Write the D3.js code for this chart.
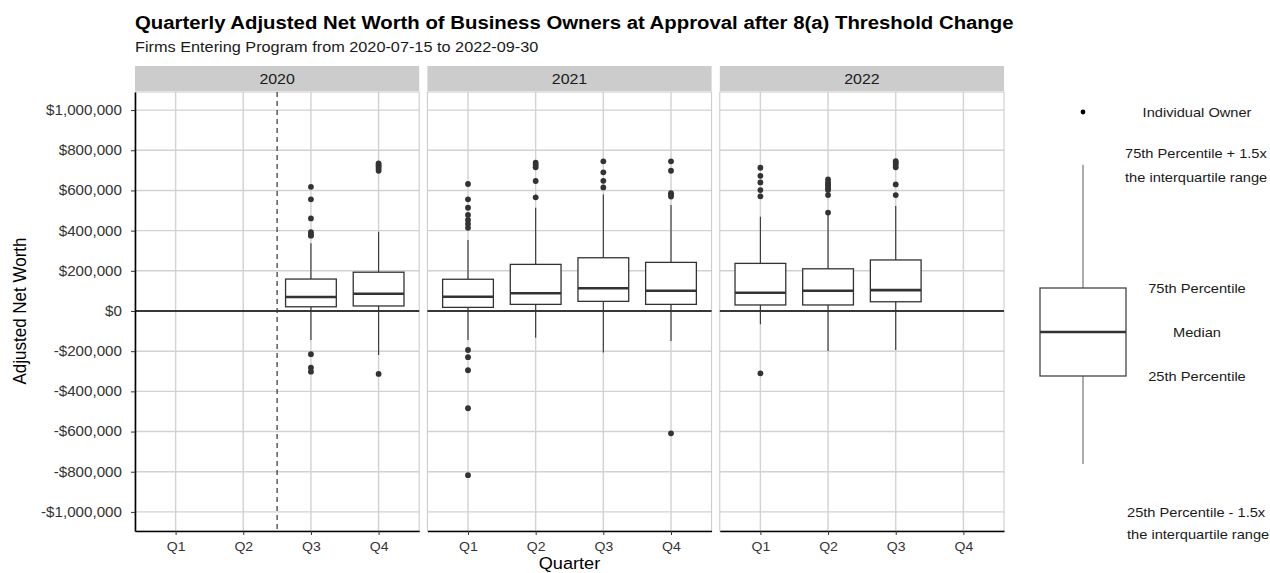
<!DOCTYPE html>
<html>
<head>
<meta charset="utf-8">
<script src="https://cdn.jsdelivr.net/npm/d3@7"></script>
<style>
  body { margin: 0; background: #fff; }
  text { font-family: "Liberation Sans", Arial, sans-serif; }
</style>
</head>
<body>
<div id="chart"></div>
<script>
// facets and categories
const years = ['2020', '2021', '2022'];
const quarters = ['Q1', 'Q2', 'Q3', 'Q4'];
const yTicks = [-1000000, -800000, -600000, -400000, -200000, 0, 200000, 400000, 600000, 800000, 1000000];

// threshold change: between 2020 Q2 and Q3
const thresholdYear = '2020';
const thresholdQuarter = 2.5;

// one entry per box
const boxYears    = ['2020', '2020', '2021', '2021', '2021', '2021', '2022', '2022', '2022'];
const boxQuarters = ['Q3', 'Q4', 'Q1', 'Q2', 'Q3', 'Q4', 'Q1', 'Q2', 'Q3'];
const lowerWhisker = [-144000, -219000, -144000, -133000, -206000, -149000, -66000, -199000, -194000];
const p25          = [21000, 25000, 18000, 33000, 48000, 33000, 30000, 30000, 46000];
const medians      = [70000, 86000, 71000, 88000, 113000, 101000, 91000, 101000, 104000];
const p75          = [159000, 193000, 158000, 232000, 265000, 242000, 237000, 210000, 254000];
const upperWhisker = [337000, 395000, 353000, 514000, 580000, 527000, 469000, 478000, 522000];
const outliers = [
  [618000, 556000, 461000, 392000, 380000, 375000, -215000, -282000, -302000],
  [735000, 726000, 718000, 708000, 698000, -313000],
  [632000, 556000, 514000, 478000, 453000, 433000, 414000, -194000, -230000, -295000, -484000, -817000],
  [738000, 727000, 715000, 647000, 566000],
  [745000, 690000, 648000, 615000],
  [745000, 698000, 586000, 578000, 570000, -609000],
  [713000, 673000, 640000, 602000, 571000, -310000],
  [655000, 640000, 630000, 622000, 610000, 602000, 577000, 490000],
  [746000, 738000, 728000, 715000, 630000, 577000],
];

// explanatory legend (illustrative units)
const legendStats = { point: 9.5, upper: 8.3, q3: 5.5, median: 4.5, q1: 3.5, lower: 1.5 };
const legendLabels = ['Individual Owner', '75th Percentile', 'Median', '25th Percentile'];
const legendUpperNote = ['75th Percentile + 1.5x', 'the interquartile range'];
const legendLowerNote = ['25th Percentile - 1.5x', 'the interquartile range'];

const title = 'Quarterly Adjusted Net Worth of Business Owners at Approval after 8(a) Threshold Change';
const subtitle = 'Firms Entering Program from 2020-07-15 to 2022-09-30';

const W = 1270, H = 573;
const SX = 1.1; // text in the reference is a little wide
const panelTop = 92, panelBottom = 531, stripTop = 66;

const boxes = boxYears.map((yr, i) => ({
  year: yr,
  q: quarters.indexOf(boxQuarters[i]) + 1,
  lo: lowerWhisker[i], p25: p25[i], med: medians[i], p75: p75[i], hi: upperWhisker[i],
  out: outliers[i],
}));

const svg = d3.select('#chart').append('svg')
  .attr('width', W).attr('height', H)
  .style('background', '#fff');

function stretch(sel, sx = SX) {
  sel.each(function() {
    const t = d3.select(this);
    const x = +t.attr('x') || 0, y = +t.attr('y') || 0;
    t.attr('x', 0).attr('y', 0).attr('transform', `translate(${x},${y}) scale(${sx},1)`);
  });
}

const xPanel = d3.scaleBand().domain(years).range([135, 1004]).paddingInner(0.028);
const xq = d3.scaleLinear().domain([0.4, 4.6]).range([0, xPanel.bandwidth()]);
const y = d3.scaleLinear().domain([-1095000, 1090000]).range([panelBottom, panelTop]);
const boxW = xq(0.75) - xq(0);
const money = v => (v < 0 ? '-' : '') + '$' + d3.format(',')(Math.abs(v));

// title
svg.append('text').attr('x', 135).attr('y', 29)
  .attr('font-size', 18.5).attr('font-weight', 'bold').attr('fill', '#000')
  .text(title).call(stretch);
svg.append('text').attr('x', 135).attr('y', 52)
  .attr('font-size', 14.8).attr('fill', '#1a1a1a')
  .text(subtitle).call(stretch);

years.forEach(yr => {
  const g = svg.append('g').attr('transform', `translate(${xPanel(yr)},0)`);
  const bw = xPanel.bandwidth();

  // strip
  g.append('rect').attr('x', 0).attr('y', stripTop).attr('width', bw).attr('height', panelTop - stripTop - 1)
    .attr('fill', '#cccccc');
  g.append('text').attr('x', bw / 2).attr('y', 84).attr('text-anchor', 'middle')
    .attr('font-size', 14.5).attr('fill', '#1a1a1a').text(yr).call(stretch);

  // grid
  g.selectAll('.hg').data(yTicks).enter().append('line')
    .attr('x1', 0).attr('x2', bw).attr('y1', d => y(d)).attr('y2', d => y(d))
    .attr('stroke', '#d2d2d2').attr('stroke-width', 1.4);
  g.selectAll('.vg').data(quarters).enter().append('line')
    .attr('x1', (d, i) => xq(i + 1)).attr('x2', (d, i) => xq(i + 1))
    .attr('y1', panelTop).attr('y2', panelBottom)
    .attr('stroke', '#d2d2d2').attr('stroke-width', 1.4);
  g.append('rect').attr('x', 0).attr('y', panelTop).attr('width', bw).attr('height', panelBottom - panelTop)
    .attr('fill', 'none').attr('stroke', '#c8c8c8').attr('stroke-width', 1);

  // zero line
  g.append('line').attr('x1', 0).attr('x2', bw).attr('y1', y(0)).attr('y2', y(0))
    .attr('stroke', '#000').attr('stroke-width', 1.3);

  if (yr === thresholdYear) {
    g.append('line').attr('x1', xq(thresholdQuarter)).attr('x2', xq(thresholdQuarter))
      .attr('y1', panelTop).attr('y2', panelBottom)
      .attr('stroke', '#333').attr('stroke-width', 1.2).attr('stroke-dasharray', '5,4');
  }

  const bx = g.selectAll('.box').data(boxes.filter(b => b.year === yr)).enter().append('g');
  bx.append('line').attr('x1', d => xq(d.q)).attr('x2', d => xq(d.q))
    .attr('y1', d => y(d.hi)).attr('y2', d => y(d.p75)).attr('stroke', '#333').attr('stroke-width', 1.1);
  bx.append('line').attr('x1', d => xq(d.q)).attr('x2', d => xq(d.q))
    .attr('y1', d => y(d.p25)).attr('y2', d => y(d.lo)).attr('stroke', '#333').attr('stroke-width', 1.1);
  bx.append('rect').attr('x', d => xq(d.q) - boxW / 2).attr('width', boxW)
    .attr('y', d => y(d.p75)).attr('height', d => y(d.p25) - y(d.p75))
    .attr('fill', '#fff').attr('stroke', '#333').attr('stroke-width', 1.3);
  bx.append('line').attr('x1', d => xq(d.q) - boxW / 2).attr('x2', d => xq(d.q) + boxW / 2)
    .attr('y1', d => y(d.med)).attr('y2', d => y(d.med)).attr('stroke', '#333').attr('stroke-width', 2.6);
  bx.selectAll('circle').data(d => d.out.map(v => ({ q: d.q, v }))).enter().append('circle')
    .attr('cx', d => xq(d.q)).attr('cy', d => y(d.v)).attr('r', 2.9).attr('fill', '#333');

  // x axis
  const ax = g.append('g').attr('transform', `translate(0,${panelBottom})`)
    .call(d3.axisBottom(xq).tickValues([1, 2, 3, 4]).tickFormat(d => quarters[d - 1])
      .tickSize(4).tickSizeOuter(0).tickPadding(6.5));
  ax.select('.domain').attr('stroke', '#000').attr('stroke-width', 1.6);
  ax.selectAll('.tick line').attr('stroke', '#333');
  ax.selectAll('text').attr('font-size', 12.8).attr('fill', '#333')
    .style('font-family', '"Liberation Sans", Arial, sans-serif').call(stretch);
});

// y axis on first panel
const ay = svg.append('g').attr('transform', `translate(${xPanel(years[0])},0)`)
  .call(d3.axisLeft(y).tickValues(yTicks).tickFormat(money).tickSize(4).tickSizeOuter(0).tickPadding(9));
ay.select('.domain').attr('stroke', '#000').attr('stroke-width', 1.6);
ay.selectAll('.tick line').attr('stroke', '#333');
ay.selectAll('text').attr('font-size', 13.8).attr('fill', '#333')
  .style('font-family', '"Liberation Sans", Arial, sans-serif').call(stretch);

// axis titles
svg.append('text').attr('transform', `translate(26,${y(0)}) scale(${SX},1) rotate(-90)`)
  .attr('text-anchor', 'middle').attr('font-size', 17).attr('fill', '#000').text('Adjusted Net Worth');
svg.append('text').attr('x', (xPanel.range()[0] + xPanel.range()[1]) / 2).attr('y', 569)
  .attr('text-anchor', 'middle').attr('font-size', 16.5).attr('fill', '#000').text('Quarter').call(stretch);

// legend
const ly = d3.scaleLinear().domain([0, 10]).range([530, 90]);
const lg = svg.append('g');
const lcx = 1083, lbw = 86, ltx = 1197, lnx = 1125;
lg.append('circle').attr('cx', lcx).attr('cy', ly(legendStats.point)).attr('r', 2.4).attr('fill', '#000');
lg.append('line').attr('x1', lcx).attr('x2', lcx).attr('y1', ly(legendStats.upper)).attr('y2', ly(legendStats.q3))
  .attr('stroke', '#808080').attr('stroke-width', 1.3);
lg.append('line').attr('x1', lcx).attr('x2', lcx).attr('y1', ly(legendStats.q1)).attr('y2', ly(legendStats.lower))
  .attr('stroke', '#808080').attr('stroke-width', 1.3);
lg.append('rect').attr('x', lcx - lbw / 2).attr('width', lbw)
  .attr('y', ly(legendStats.q3)).attr('height', ly(legendStats.q1) - ly(legendStats.q3))
  .attr('fill', '#fff').attr('stroke', '#444').attr('stroke-width', 1.3);
lg.append('line').attr('x1', lcx - lbw / 2).attr('x2', lcx + lbw / 2)
  .attr('y1', ly(legendStats.median)).attr('y2', ly(legendStats.median))
  .attr('stroke', '#333').attr('stroke-width', 2.4);

const labelYs = [legendStats.point, legendStats.q3, legendStats.median, legendStats.q1];
lg.selectAll('.ll').data(legendLabels).enter().append('text')
  .attr('x', ltx).attr('y', (d, i) => ly(labelYs[i])).attr('dy', '0.35em')
  .attr('text-anchor', 'middle').attr('font-size', 13.3).attr('fill', '#1a1a1a')
  .text(d => d).call(stretch);
lg.selectAll('.lu').data(legendUpperNote).enter().append('text')
  .attr('x', lnx).attr('y', (d, i) => ly(legendStats.upper) - 11 + i * 24).attr('dy', '0.35em')
  .attr('font-size', 13.3).attr('fill', '#1a1a1a').text(d => d).call(stretch);
lg.selectAll('.lo').data(legendLowerNote).enter().append('text')
  .attr('x', lnx + 2).attr('y', (d, i) => ly(legendStats.lower) + 48 + i * 22).attr('dy', '0.35em')
  .attr('font-size', 13.3).attr('fill', '#1a1a1a').text(d => d).call(stretch);
</script>
</body>
</html>
